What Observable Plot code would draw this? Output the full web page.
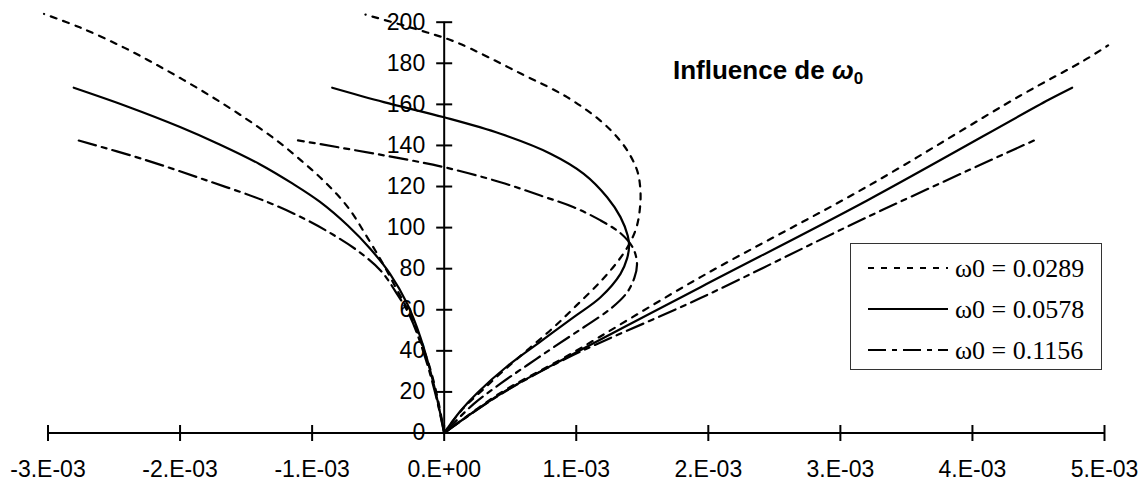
<!DOCTYPE html>
<html>
<head>
<meta charset="utf-8">
<script src="https://cdn.jsdelivr.net/npm/d3@7"></script>
<script src="https://cdn.jsdelivr.net/npm/@observablehq/plot@0.6"></script>
<style>
  html, body { margin: 0; padding: 0; background: #fff; }
  #chart { position: relative; width: 1145px; height: 482px; }
</style>
</head>
<body>
<div id="chart"></div>
<script>
// ---- Data (x: strain, y: stress) ----
const seriesNames = ["ω0 = 0.0289", "ω0 = 0.0578", "ω0 = 0.1156"];

// ω0 = 0.0289 (dotted)
const s1Left = [[0,0],[-0.04e-3,14],[-0.10e-3,30],[-0.18e-3,45],[-0.26e-3,58],[-0.36e-3,70],[-0.46e-3,82],[-0.58e-3,95],[-0.73e-3,110],[-0.90e-3,122],[-1.08e-3,132.5],[-1.27e-3,142.5],[-1.50e-3,153],[-1.78e-3,164.5],[-2.10e-3,176.5],[-2.42e-3,187.5],[-2.76e-3,197.5],[-3.03e-3,204]];
const s1Mid = [[0,0],[0.13e-3,11],[0.30e-3,21.5],[0.47e-3,31.5],[0.65e-3,41.5],[0.83e-3,51.5],[1.0e-3,62],[1.18e-3,73.5],[1.32e-3,84],[1.41e-3,93],[1.46e-3,101],[1.483e-3,110],[1.486e-3,118],[1.465e-3,127],[1.41e-3,135],[1.33e-3,142.5],[1.184e-3,152],[0.931e-3,163.5],[0.58e-3,175],[0.10e-3,190],[-0.129e-3,195],[-0.596e-3,203.7]];
const s1Right = [[0,0],[0.426e-3,19.5],[0.931e-3,37.5],[1.941e-3,75.9],[3.203e-3,120],[4.364e-3,164.3],[4.843e-3,181.3],[5.027e-3,188.7]];

// ω0 = 0.0578 (solid)
const s2Left = [[0,0],[-0.08e-3,24],[-0.18e-3,46.6],[-0.28e-3,62.9],[-0.41e-3,77.5],[-0.56e-3,89.7],[-0.73e-3,101],[-0.94e-3,112.5],[-1.15e-3,121.5],[-1.40e-3,131],[-1.70e-3,140.5],[-2.0e-3,149],[-2.40e-3,159],[-2.805e-3,168.1]];
const s2Mid = [[0,0],[0.12e-3,10.5],[0.25e-3,19.5],[0.477e-3,32.5],[0.729e-3,44.5],[0.981e-3,56.4],[1.184e-3,66.1],[1.335e-3,77.5],[1.385e-3,85],[1.40e-3,91],[1.39e-3,96],[1.335e-3,105.1],[1.234e-3,114.8],[1.057e-3,126.2],[0.805e-3,136],[0.426e-3,145.7],[0,153.7],[-0.457e-3,161.1],[-0.848e-3,168.1]];
const s2Right = [[0,0],[0.426e-3,19],[0.931e-3,36.9],[1.941e-3,71],[3.203e-3,113.2],[4.577e-3,162.2],[4.755e-3,168.1]];

// ω0 = 0.1156 (dash-dot)
const s3Left = [[0,0],[-0.07e-3,20],[-0.16e-3,40],[-0.26e-3,57],[-0.36e-3,68],[-0.48e-3,79],[-0.65e-3,88.5],[-0.84e-3,96.5],[-1.05e-3,104],[-1.34e-3,112.5],[-1.80e-3,123],[-2.28e-3,133.3],[-2.767e-3,142.4]];
const s3Mid = [[0,0],[0.224e-3,14.2],[0.426e-3,24],[0.628e-3,33],[0.83e-3,41.8],[1.057e-3,51.5],[1.26e-3,60.5],[1.38e-3,68],[1.44e-3,75.5],[1.46e-3,82.4],[1.43e-3,90],[1.34e-3,97],[1.184e-3,103.5],[0.981e-3,109.9],[0.729e-3,115.6],[0.426e-3,122.1],[0,129.4],[-0.382e-3,134.3],[-1.107e-3,142.5]];
const s3Right = [[0,0],[0.426e-3,18.8],[0.931e-3,36.5],[1.941e-3,65.7],[3.203e-3,105.1],[4.465e-3,142.4]];

// Axis ticks and labels
const xTicks = [-3e-3,-2e-3,-1e-3,0,1e-3,2e-3,3e-3,4e-3,5e-3];
const xTickLabels = ["-3.E-03","-2.E-03","-1.E-03","0.E+00","1.E-03","2.E-03","3.E-03","4.E-03","5.E-03"];
const yTicks = [0,20,40,60,80,100,120,140,160,180,200];
const yTickLabels = ["0","20","40","60","80","100","120","140","160","180","200"];

// ---- Styles ----
const dashes = ["6,7", null, "18,6,5,6"];
const branches = [[s1Left, s1Mid, s1Right],[s2Left, s2Mid, s2Right],[s3Left, s3Mid, s3Right]];

const vTick = {draw(ctx){ ctx.moveTo(0,-8); ctx.lineTo(0,8); }};
const hTick = {draw(ctx){ ctx.moveTo(-8,0); ctx.lineTo(8,0); }};

const lineMarks = [];
branches.forEach((set, si) => {
  set.forEach(data => {
    lineMarks.push(Plot.line(data, {
      x: d => d[0], y: d => d[1], curve: "catmull-rom",
      stroke: "black", strokeWidth: 2.2,
      strokeDasharray: dashes[si] || undefined
    }));
  });
});

const chart = Plot.plot({
  width: 1145, height: 482,
  marginLeft: 47.5, marginRight: 41, marginTop: 21.7, marginBottom: 49.5,
  x: {domain: [-3e-3, 5e-3], axis: null},
  y: {domain: [0, 200], axis: null},
  style: {background: "white", fontFamily: "'Liberation Sans', Arial, sans-serif", overflow: "visible"},
  marks: [
    Plot.ruleY([0], {x1: -3e-3, x2: 5e-3, stroke: "black", strokeWidth: 2}),
    Plot.ruleX([0], {y1: 0, y2: 200, stroke: "black", strokeWidth: 2}),
    Plot.dot(xTicks, {x: d => d, y: 0, symbol: vTick, stroke: "black", strokeWidth: 2, fill: "none"}),
    Plot.dot(yTicks, {x: 0, y: d => d, symbol: hTick, stroke: "black", strokeWidth: 2, fill: "none"}),
    ...lineMarks,
    Plot.text(xTicks, {x: d => d, y: 0, text: (d, i) => xTickLabels[i], dy: 37, fontSize: 23, fill: "black"}),
    Plot.text(yTicks, {x: 0, y: d => d, text: (d, i) => yTickLabels[i], dx: -19, textAnchor: "end", fontSize: 23, fill: "black"})
  ]
});
document.getElementById("chart").appendChild(chart);

// ---- Title and legend ----
const svg = d3.select(chart);
const title = svg.append("text")
  .attr("x", 673).attr("y", 79).attr("text-anchor", "start")
  .attr("font-family", "'Liberation Sans', Arial, sans-serif")
  .attr("font-weight", "bold").attr("font-size", 26).attr("fill", "black");
title.append("tspan").text("Influence de ");
title.append("tspan").attr("font-style", "italic").text("ω");
title.append("tspan").attr("font-size", 17).attr("dy", 5).text("0");

const lg = svg.append("g");
lg.append("rect").attr("x", 850.5).attr("y", 243.5).attr("width", 251).attr("height", 126)
  .attr("fill", "white").attr("stroke", "#333").attr("stroke-width", 1);
const rowsY = [268, 309, 350];
seriesNames.forEach((name, i) => {
  lg.append("line").attr("x1", 868).attr("x2", 948).attr("y1", rowsY[i]).attr("y2", rowsY[i])
    .attr("stroke", "black").attr("stroke-width", 2.2)
    .attr("stroke-dasharray", dashes[i] || null);
  lg.append("text").attr("x", 955).attr("y", rowsY[i] + 9).attr("text-anchor", "start")
    .attr("font-family", "'Liberation Serif', 'Times New Roman', serif")
    .attr("font-size", 26).attr("fill", "black").text(name);
});
</script>
</body>
</html>
